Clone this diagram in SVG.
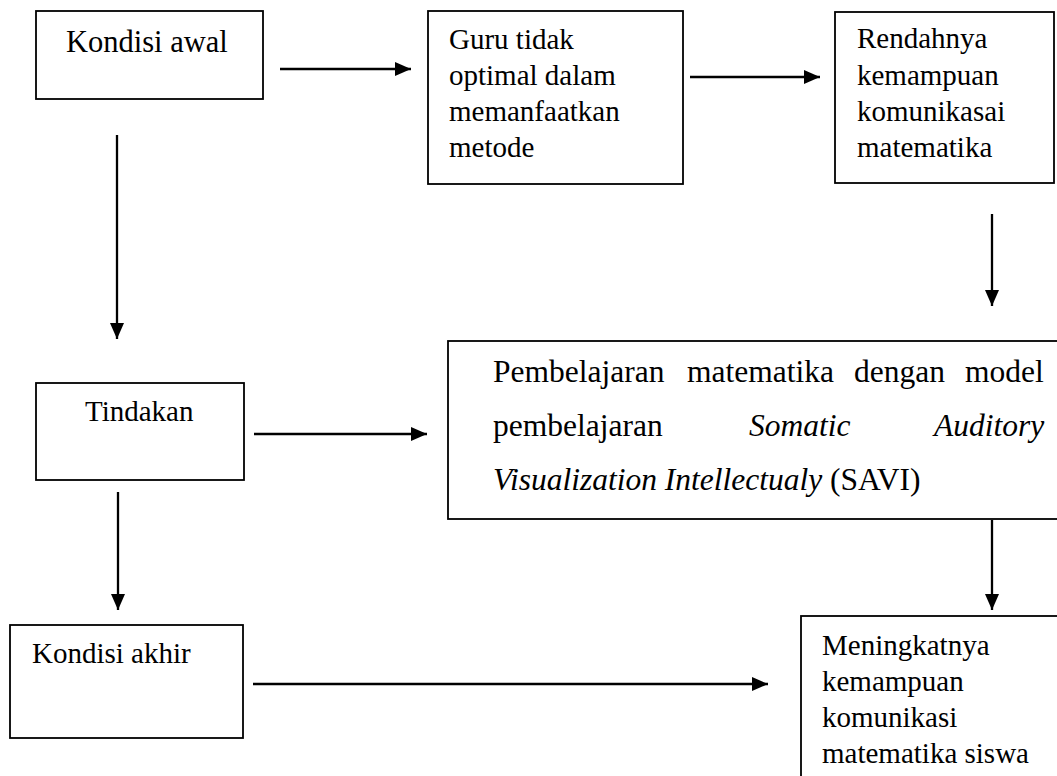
<svg xmlns="http://www.w3.org/2000/svg" width="1057" height="776" viewBox="0 0 1057 776">
<style>
.box{fill:#fff;stroke:#000;stroke-width:1.8}
.t{font-family:"Liberation Serif","Times New Roman",serif;font-size:29px;fill:#000}
.big{font-size:31.5px}
.it{font-style:italic}
.c{stroke:#000;stroke-width:2.3;fill:none;marker-end:url(#ah)}
</style>
<defs>
<marker id="ah" markerUnits="userSpaceOnUse" markerWidth="17" markerHeight="16" refX="16" refY="8" orient="auto">
<path d="M0,1 L16,8 L0,15 z" fill="#000"/>
</marker>
</defs>
<rect width="1057" height="776" fill="#fff"/>
<g id="connectors">
<line class="c" x1="280" y1="69" x2="411" y2="69"/>
<line class="c" x1="690" y1="77" x2="820" y2="77"/>
<line class="c" x1="117" y1="135" x2="117" y2="339"/>
<line class="c" x1="992" y1="214" x2="992" y2="306"/>
<line class="c" x1="254" y1="434" x2="427" y2="434"/>
<line class="c" x1="118" y1="492" x2="118" y2="610"/>
<line class="c" x1="992" y1="520" x2="992" y2="610"/>
<line class="c" x1="253" y1="684" x2="768" y2="684"/>
</g>
<g id="kondisi-awal">
<rect class="box" x="36" y="11" width="227" height="88"/>
<text class="t" x="66" y="52" style="font-size:30.5px">Kondisi awal</text>
</g>
<g id="guru">
<rect class="box" x="428" y="11" width="255" height="173"/>
<text class="t" x="449" y="49">Guru tidak</text>
<text class="t" x="449" y="85">optimal dalam</text>
<text class="t" x="449" y="121">memanfaatkan</text>
<text class="t" x="449" y="157">metode</text>
</g>
<g id="rendahnya">
<rect class="box" x="835" y="12" width="219" height="171"/>
<text class="t" x="857" y="48">Rendahnya</text>
<text class="t" x="857" y="85">kemampuan</text>
<text class="t" x="857" y="121">komunikasai</text>
<text class="t" x="857" y="157">matematika</text>
</g>
<g id="tindakan">
<rect class="box" x="36" y="383" width="208" height="97"/>
<text class="t" x="85" y="421">Tindakan</text>
</g>
<g id="savi">
<rect class="box" x="448" y="341" width="640" height="178"/>
<text class="t big" y="382"><tspan x="493">Pembelajaran</tspan><tspan x="687">matematika</tspan><tspan x="854">dengan</tspan><tspan x="965">model</tspan></text>
<text class="t big" y="436"><tspan x="493">pembelajaran</tspan><tspan x="749" class="it">Somatic</tspan><tspan x="934" class="it">Auditory</tspan></text>
<text class="t big" x="493" y="490"><tspan class="it">Visualization Intellectualy</tspan> (SAVI)</text>
</g>
<g id="kondisi-akhir">
<rect class="box" x="10" y="625" width="233" height="113"/>
<text class="t" x="32" y="663">Kondisi akhir</text>
</g>
<g id="meningkatnya">
<rect class="box" x="801" y="616" width="280" height="180"/>
<text class="t" x="822" y="655">Meningkatnya</text>
<text class="t" x="822" y="691">kemampuan</text>
<text class="t" x="822" y="727">komunikasi</text>
<text class="t" x="822" y="763">matematika siswa</text>
</g>
</svg>
